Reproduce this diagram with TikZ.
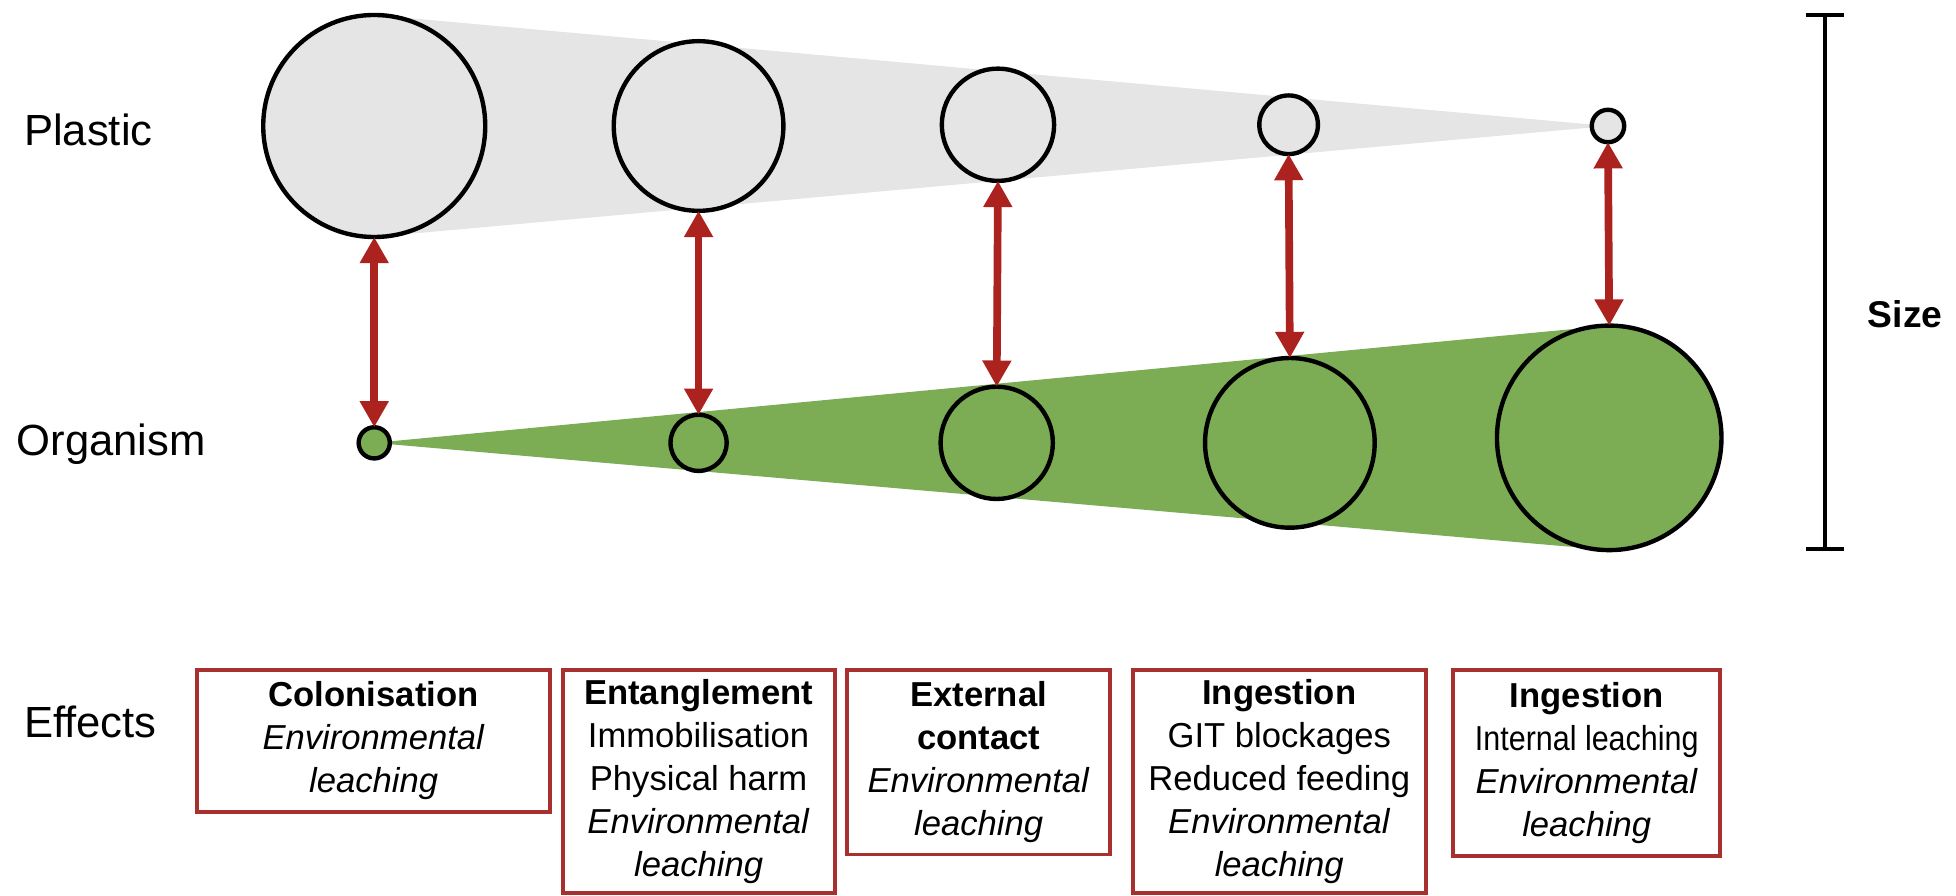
\documentclass[tikz,border=0pt]{standalone}
\usepackage{fontspec}
\usepackage{graphicx}
\setmainfont{Liberation Sans}
\usetikzlibrary{arrows.meta}

\definecolor{plasticgrey}{RGB}{229,229,229}
\definecolor{organismgreen}{RGB}{124,172,84}
\definecolor{linkred}{RGB}{172,34,30}
\definecolor{boxred}{RGB}{168,48,46}

\tikzset{
  blob/.style={circle, draw=black, line width=2pt, inner sep=0pt, outer sep=0pt, minimum size=#1},
  plastic/.style={blob=#1, fill=plasticgrey},
  organism/.style={blob=#1, fill=organismgreen},
  link/.style={draw=linkred, line width=3.5pt,
    {Triangle[length=4.2mm,width=4.4mm]}-{Triangle[length=4.2mm,width=4.4mm]}},
  rowlabel/.style={anchor=west, inner sep=0pt, font=\fontsize{19.9}{24}\selectfont},
  effectbox/.style={draw=boxred, line width=1.8pt, align=center, inner sep=0pt,
    font=\fontsize{15.8}{19.6}\selectfont},
  scalebar/.style={line width=2pt, draw=black}
}

\begin{document}
\begin{tikzpicture}[x=0.2mm, y=-0.2mm]
  \useasboundingbox (0,0) rectangle (1568,718);

  % tapering bands behind the circles
  \fill[plasticgrey] (300,12) -- (1289,101) -- (300,190) -- cycle;
  \fill[organismgreen] (300,355) -- (1290,261) -- (1290,441) -- cycle;

  % plastic particles, shrinking to the right
  \node[plastic=35.6mm] (p1) at (300,101) {};
  \node[plastic=27.2mm] (p2) at (560,101) {};
  \node[plastic=18mm]   (p3) at (800,100) {};
  \node[plastic=9.4mm]  (p4) at (1033,100) {};
  \node[plastic=5.2mm]  (p5) at (1289,101) {};

  % organisms, growing to the right
  \node[organism=5mm]    (o1) at (300,355) {};
  \node[organism=9mm]    (o2) at (560,355) {};
  \node[organism=18mm]   (o3) at (799,355) {};
  \node[organism=27.2mm] (o4) at (1034,355) {};
  \node[organism=36mm]   (o5) at (1290,351) {};

  % interactions between plastic and organism
  \draw[link] (p1.south) -- (o1.north);
  \draw[link] (p2.south) -- (o2.north);
  \draw[link] (p3.south) -- (o3.north);
  \draw[link] (p4.south) -- (o4.north);
  \draw[link] (p5.south) -- (o5.north);

  % row labels
  \node[rowlabel] (lplastic)  at (19,104) {Plastic};
  \node[rowlabel] (lorganism) at (13,356) {Organism};
  \node[rowlabel] (leffects)  at (19,579) {Effects};

  % size scale bar
  \coordinate (stop) at (1463,12);
  \coordinate (sbot) at (1463,440);
  \draw[scalebar] (stop) -- (sbot);
  \draw[scalebar] ([xshift=-3mm]stop) -- ([xshift=3mm]stop);
  \draw[scalebar] ([xshift=-3mm]sbot) -- ([xshift=3mm]sbot);
  \node[anchor=west, inner sep=0pt, font=\fontsize{17}{20}\selectfont\bfseries] (size) at (1497,252) {Size};

  % effects of each interaction
  \node[effectbox, minimum width=56.6mm, minimum height=22.8mm] (b1) at (299.5,594)
    {\textbf{Colonisation}\\\textit{Environmental}\\\textit{leaching}};
  \node[effectbox, minimum width=43.6mm, minimum height=35.8mm] (b2) at (560,626.5)
    {\textbf{Entanglement}\\Immobilisation\\Physical harm\\\textit{Environmental}\\\textit{leaching}};
  \node[effectbox, minimum width=42.2mm, minimum height=29.6mm] (b3) at (784.5,611)
    {\textbf{External}\\\textbf{contact}\\\textit{Environmental}\\\textit{leaching}};
  \node[effectbox, minimum width=47mm, minimum height=35.8mm] (b4) at (1025.5,626.5)
    {\textbf{Ingestion}\\GIT blockages\\Reduced feeding\\\textit{Environmental}\\\textit{leaching}};
  \node[effectbox, minimum width=42.8mm, minimum height=29.8mm] (b5) at (1272,611.5)
    {\textbf{Ingestion}\\\scalebox{0.88}[1]{Internal leaching}\\\textit{Environmental}\\\textit{leaching}};
\end{tikzpicture}
\end{document}
